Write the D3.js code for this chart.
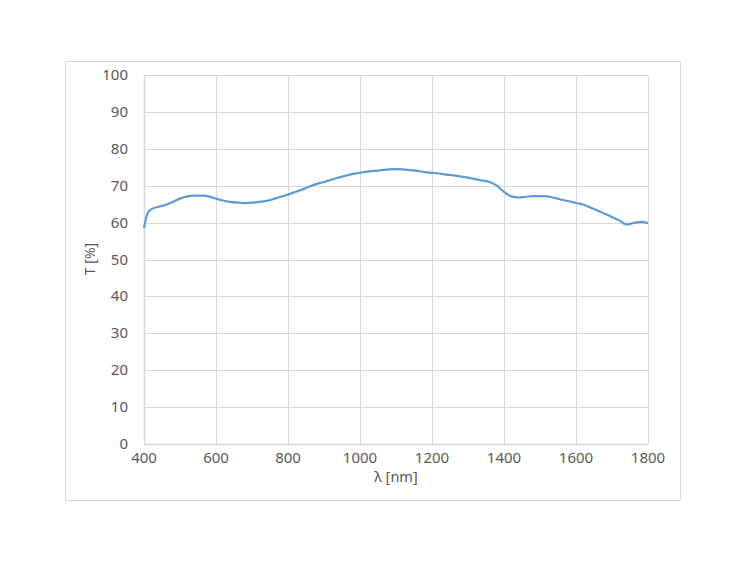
<!DOCTYPE html>
<html><head><meta charset="utf-8">
<script src="https://cdn.jsdelivr.net/npm/d3@7"></script>
<style>body{margin:0;background:#fff}svg{display:block}text{font-family:"Noto Sans",sans-serif;fill:#595959}</style>
</head><body><div id="c"></div>
<script>
const wavelengths = [400,405,410,420,440,460,480,500,520,540,560,580,600,620,640,660,680,700,720,740,760,780,800,820,840,860,880,900,920,940,960,980,1000,1020,1040,1060,1080,1100,1120,1140,1160,1180,1200,1220,1240,1260,1280,1300,1320,1340,1360,1380,1400,1420,1440,1460,1480,1500,1520,1540,1560,1580,1600,1620,1640,1660,1680,1700,1720,1740,1760,1780,1800];
const transmittance = [58.5,61.0,62.5,63.6,64.3,64.8,65.6,66.5,67.1,67.3,67.3,67.1,66.5,66.0,65.6,65.4,65.3,65.4,65.6,65.9,66.4,67.0,67.6,68.3,69.0,69.8,70.5,71.0,71.6,72.2,72.7,73.2,73.5,73.8,74.0,74.2,74.4,74.5,74.4,74.2,74.0,73.7,73.5,73.3,73.0,72.8,72.5,72.2,71.8,71.4,71.0,70.0,68.3,67.1,66.8,67.0,67.2,67.2,67.1,66.7,66.2,65.8,65.3,64.9,64.1,63.3,62.4,61.5,60.6,59.5,59.9,60.2,59.9];
const xTicks = [400,600,800,1000,1200,1400,1600,1800];
const yTicks = [0,10,20,30,40,50,60,70,80,90,100];
const xLabel = "λ [nm]", yLabel = "T [%]";

const W=750,H=562;
const svg=d3.select("#c").append("svg").attr("width",W).attr("height",H);
svg.append("rect").attr("x",65.5).attr("y",61.5).attr("width",615).attr("height",439).attr("fill","none").attr("stroke","#d9d9d9");
const x=d3.scaleLinear().domain([400,1800]).range([144,648]);
const y=d3.scaleLinear().domain([0,100]).range([444,75]);
const g=svg.append("g");
g.selectAll(".hg").data(yTicks).join("line").attr("x1",144).attr("x2",648).attr("y1",d=>Math.round(y(d))+0.5).attr("y2",d=>Math.round(y(d))+0.5).attr("stroke","#d9d9d9").attr("stroke-width",d=>d===0?1.5:1);
g.selectAll(".vg").data(xTicks).join("line").attr("y1",75).attr("y2",444).attr("x1",d=>Math.round(x(d))+0.5).attr("x2",d=>Math.round(x(d))+0.5).attr("stroke","#d9d9d9").attr("stroke-width",d=>d===400?1.5:1);
g.selectAll(".yl").data(yTicks).join("text").attr("x",128).attr("y",d=>y(d)+5).attr("text-anchor","end").attr("font-size",15).text(d=>d);
g.selectAll(".xl").data(xTicks).join("text").attr("x",d=>x(d)).attr("y",463).attr("text-anchor","middle").attr("font-size",15).text(d=>d);
svg.append("text").attr("x",396).attr("y",482).attr("text-anchor","middle").attr("font-size",14.5).text(xLabel);
svg.append("text").attr("transform","translate(95,259) rotate(-90)").attr("text-anchor","middle").attr("font-size",14).text(yLabel);
const data=wavelengths.map((w,i)=>[w,transmittance[i]]);
svg.append("path").datum(data).attr("fill","none").attr("stroke","#5b9bd5").attr("stroke-width",2.2).attr("stroke-linejoin","round")
 .attr("d",d3.line().x(d=>x(d[0])).y(d=>y(d[1])).curve(d3.curveMonotoneX));
</script></body></html>
